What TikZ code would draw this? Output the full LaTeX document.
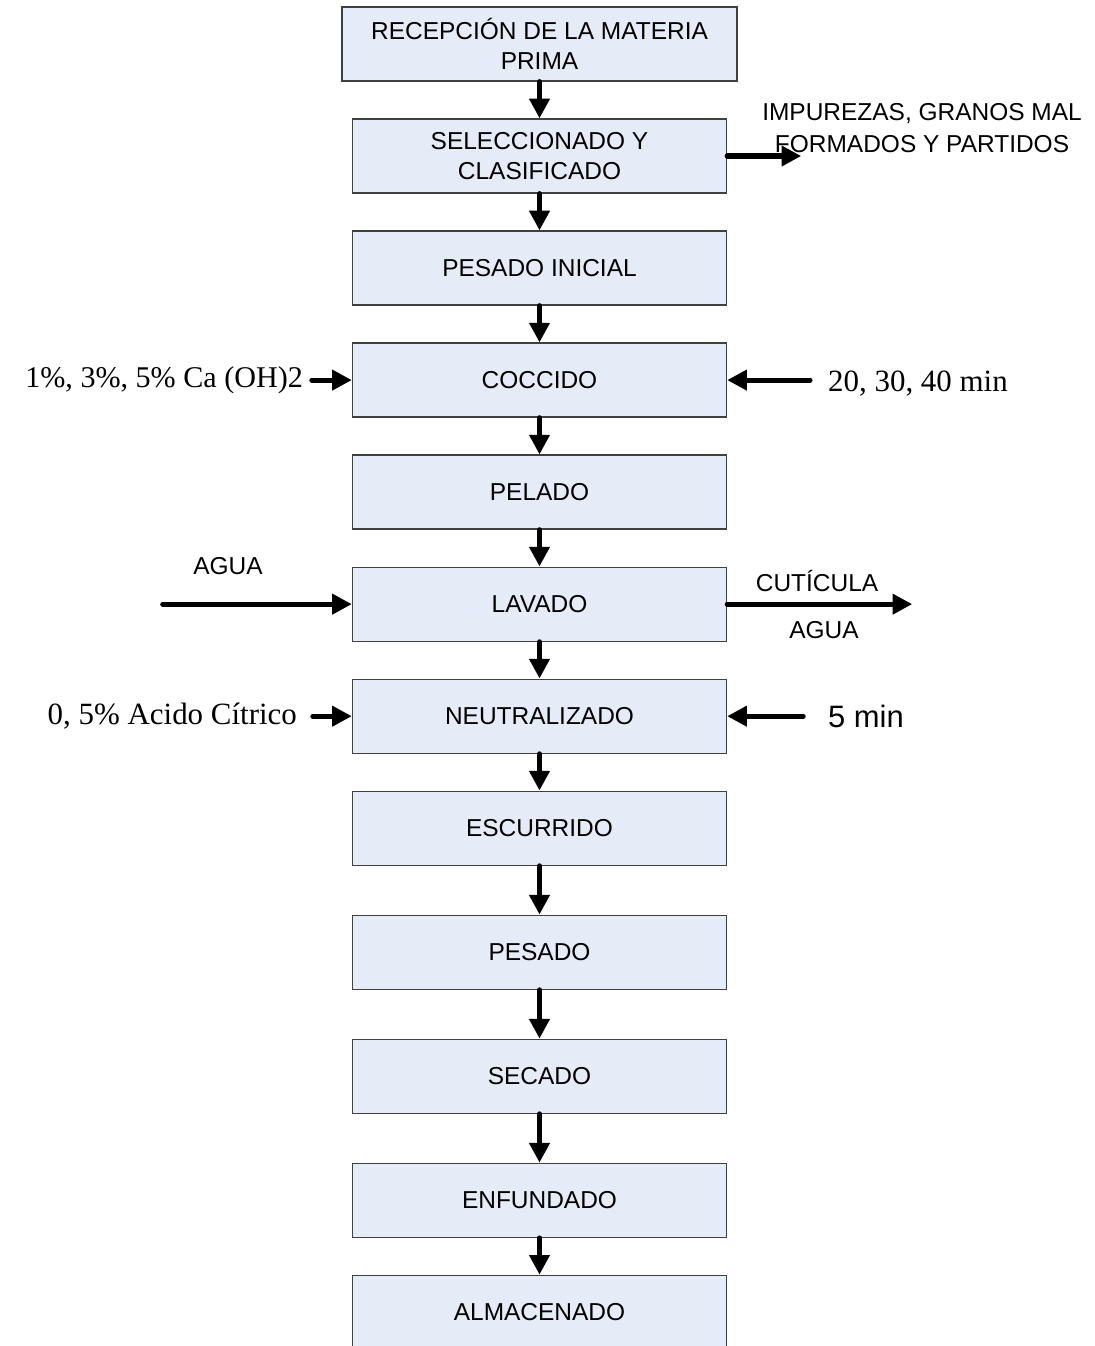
\documentclass[tikz,border=0pt]{standalone}
\usepackage{fontspec}
\setmainfont{Liberation Serif}
\newfontfamily\arialfont{Liberation Sans}
\usetikzlibrary{arrows.meta, positioning}
\definecolor{boxblue}{RGB}{230,236,247}
\tikzstyle{process} = [rectangle, minimum width = 9.35cm, minimum height = 1.85cm, text centered, align = center, draw = black!75, line width = 0.9pt, fill = boxblue, font = \arialfont\fontsize{17.4}{21.5}\selectfont]
\tikzstyle{note} = [align = center, font = \arialfont\fontsize{17.4}{22.5}\selectfont]
\tikzstyle{data} = [font = \fontsize{22}{26}\selectfont]
\tikzstyle{arrow} = [line width = 3.6pt, line cap = round, -{Triangle[length = 14pt, width = 14pt]}]

\begin{document}
\begin{tikzpicture}[x = 0.025cm, y = -0.025cm, node distance = 2.8cm]
    \useasboundingbox (0,0) rectangle (1094,1346);
    \clip (0,0) rectangle (1094,1346);

    % main line of the process
    \node(pr1)[process, minimum width = 9.875cm] at (539.5,44){RECEPCIÓN DE LA MATERIA\\PRIMA};
    \node(pr2)[process, below of = pr1]{SELECCIONADO Y\\CLASIFICADO};
    \node(pr3)[process, below of = pr2]{PESADO INICIAL};
    \node(pr4)[process, below of = pr3]{COCCIDO};
    \node(pr5)[process, below of = pr4]{PELADO};
    \node(pr6)[process, below of = pr5]{LAVADO};
    \node(pr7)[process, below of = pr6]{NEUTRALIZADO};
    \node(pr8)[process, below of = pr7]{ESCURRIDO};
    \node(pr9)[process, below of = pr8, yshift = -0.3cm]{PESADO};
    \node(pr10)[process, below of = pr9, yshift = -0.3cm]{SECADO};
    \node(pr11)[process, below of = pr10, yshift = -0.3cm]{ENFUNDADO};
    \node(pr12)[process, below of = pr11]{ALMACENADO};

    % inputs and outputs at the sides
    \node(out1)[note] at (922,128){IMPUREZAS, GRANOS MAL\\FORMADOS Y PARTIDOS};
    \node(in1)[data, left = 1.1cm of pr4, font = \fontsize{21.4}{26}\selectfont]{1\%, 3\%, 5\% Ca (OH)2};
    \node(in2)[data, right = 2.4cm of pr4, yshift = -0.1cm]{20, 30, 40 min};
    \node(in3)[note] at (228,566){AGUA};
    \node(out2)[note] at (817,581){CUTÍCULA};
    \node(out3)[note] at (824,630){AGUA};
    \node(in4)[data, left = 1.25cm of pr7]{0, 5\% Acido Cítrico};
    \node(in5)[note, right = 2.4cm of pr7, font = \arialfont\fontsize{22}{26}\selectfont]{5 min};

    \coordinate (c1) at ([xshift = 1.85cm]pr2.east);
    \coordinate (c2) at ([xshift = -4.725cm]pr6.west);
    \coordinate (c3) at ([xshift = 4.625cm]pr6.east);

    \draw[arrow](pr1)--(pr2);
    \draw[arrow](pr2)--(pr3);
    \draw[arrow](pr3)--(pr4);
    \draw[arrow](pr4)--(pr5);
    \draw[arrow](pr5)--(pr6);
    \draw[arrow](pr6)--(pr7);
    \draw[arrow](pr7)--(pr8);
    \draw[arrow](pr8)--(pr9);
    \draw[arrow](pr9)--(pr10);
    \draw[arrow](pr10)--(pr11);
    \draw[arrow](pr11)--(pr12);

    \draw[arrow](pr2.east)--(c1);
    \draw[arrow, shorten <= 0.1cm](in1.east)--(in1.east -| pr4.west);
    \draw[arrow, shorten <= 0.33cm](in2.west |- pr4)--(pr4.east);
    \draw[arrow](c2)--(pr6.west);
    \draw[arrow](pr6.east)--(c3);
    \draw[arrow, shorten <= 0.275cm](in4.east)--(in4.east -| pr7.west);
    \draw[arrow, shorten <= 0.5cm](in5.west)--(in5.west -| pr7.east);
\end{tikzpicture}
\end{document}
